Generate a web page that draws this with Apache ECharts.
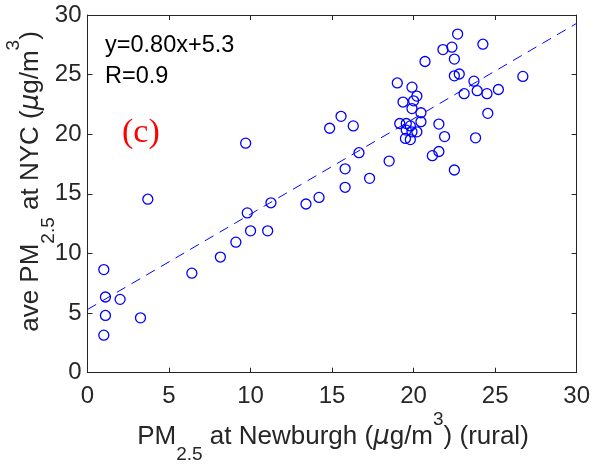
<!DOCTYPE html>
<html><head><meta charset="utf-8">
<script src="https://cdn.jsdelivr.net/npm/echarts@6/dist/echarts.min.js"></script>
<style>html,body{margin:0;padding:0;background:#fff}#c{width:593px;height:466px}</style>
</head><body><div id="c"></div>
<script>
// Tick labels
const xTicks = [0, 5, 10, 15, 20, 25, 30];
const yTicks = [0, 5, 10, 15, 20, 25, 30];

// PM2.5 at Newburgh (rural), x values
const newburgh = [
  1.0, 1.1, 2.0, 1.1, 3.25, 1.0, 3.7, 6.4, 8.15, 9.1, 9.8, 10.0, 11.05, 11.25, 13.4, 14.2, 9.7,
  14.85, 15.55, 16.3, 16.65, 15.8, 15.8, 17.3, 18.5, 19.0, 19.35,
  19.15, 19.55, 19.8, 19.55, 19.9, 20.2, 19.5, 19.8,
  19.9, 20.2, 20.0, 19.9, 20.45, 20.45, 20.7, 21.8, 22.35, 22.5, 22.7, 24.25,
  22.5, 22.8, 23.7, 23.1, 23.9, 24.5, 25.2, 26.7, 24.55,
  21.55, 21.9, 23.8, 21.55, 21.15, 22.5
];
// ave PM2.5 at NYC, y values
const nyc = [
  8.65, 6.35, 6.15, 4.8, 4.6, 3.15, 14.55, 8.35, 9.7, 10.95, 13.4, 11.9, 11.9, 14.25, 14.15, 14.7, 19.25,
  20.5, 21.5, 20.7, 18.45, 17.1, 15.55, 16.3, 17.75, 24.3, 22.7,
  20.9, 20.9, 20.7, 20.35, 20.2, 20.2, 19.65, 19.55,
  23.95, 23.2, 22.8, 22.15, 21.8, 21.05, 26.1, 27.1, 27.3, 26.3, 28.4, 27.55,
  24.9, 25.05, 24.45, 23.4, 23.65, 23.4, 23.75, 24.85, 21.75,
  20.85, 19.8, 19.7, 18.55, 18.2, 17.0
];
// Regression line y = 0.80x + 5.3 (end points)
const fitX = [0, 30];
const fitY = [5.3, 29.3];

const axisColor = '#262626';
const FONT = '"Liberation Sans", Arial, Helvetica, sans-serif';

const points = newburgh.map((x, i) => [x, nyc[i]]);
const fitLine = fitX.map((x, i) => [x, fitY[i]]);

function xAxisCfg(pos, showLabel) {
  return {
    type: 'value', position: pos, min: xTicks[0], max: xTicks[xTicks.length - 1], interval: 5,
    axisLine: { show: true, onZero: false, lineStyle: { color: axisColor, width: 1 } },
    axisTick: { show: true, inside: true, length: 5, lineStyle: { color: axisColor, width: 1 } },
    axisLabel: { show: showLabel, fontSize: 24, color: axisColor, fontFamily: FONT, margin: 12,
      formatter: v => (xTicks.indexOf(v) >= 0 ? String(v) : '') },
    splitLine: { show: false }
  };
}
function yAxisCfg(pos, showLabel) {
  return {
    type: 'value', position: pos, min: yTicks[0], max: yTicks[yTicks.length - 1], interval: 5,
    axisLine: { show: true, onZero: false, lineStyle: { color: axisColor, width: 1 } },
    axisTick: { show: true, inside: true, length: 5, lineStyle: { color: axisColor, width: 1 } },
    axisLabel: { show: showLabel, fontSize: 24, color: axisColor, fontFamily: FONT, margin: 6,
      formatter: v => (yTicks.indexOf(v) >= 0 ? String(v) : '') },
    splitLine: { show: false }
  };
}

const richBase = {
  m: { fontSize: 26, fontFamily: FONT, fill: axisColor, lineHeight: 54 },
  g: { fontSize: 26, fontFamily: '"DejaVu Sans", sans-serif', fontStyle: 'italic', fill: axisColor, lineHeight: 54 },
  s: { fontSize: 19, fontFamily: FONT, fill: axisColor, lineHeight: 20, verticalAlign: 'bottom' },
  p: { fontSize: 19, fontFamily: FONT, fill: axisColor, lineHeight: 32, verticalAlign: 'top' }
};

const chart = echarts.init(document.getElementById('c'), null, { renderer: 'canvas' });
chart.setOption({
  animation: false,
  backgroundColor: '#fff',
  grid: { left: 87.5, right: 16.3, top: 15, bottom: 93.3, containLabel: false },
  xAxis: [xAxisCfg('bottom', true), xAxisCfg('top', false)],
  yAxis: [yAxisCfg('left', true), yAxisCfg('right', false)],
  series: [
    {
      type: 'line', data: fitLine, showSymbol: false, symbol: 'none', silent: true,
      lineStyle: { color: '#0000ff', width: 1, type: [10, 7] }, z: 2
    },
    {
      type: 'scatter', data: points, symbol: 'circle', symbolSize: 10,
      itemStyle: { color: 'rgba(255,255,255,0)', borderColor: '#0000ff', borderWidth: 1.3, opacity: 1 },
      z: 3
    }
  ],
  graphic: [
    {
      type: 'text', x: 333, y: 437,
      style: {
        text: '{m|PM}{s|2.5}{m| at Newburgh (}{g|μ}{m|g/m}{p|3}{m|) (rural)}',
        rich: richBase, align: 'center', verticalAlign: 'middle'
      }
    },
    {
      type: 'text', x: 31, y: 181.5, rotation: Math.PI / 2,
      style: {
        text: '{m|ave PM}{s|2.5}{m| at NYC (}{g|μ}{m|g/m}{p|3}{m|)}',
        rich: richBase, align: 'center', verticalAlign: 'middle'
      }
    },
    {
      type: 'text', x: 105, y: 46,
      style: { text: 'y=0.80x+5.3', fontSize: 23.5, fontFamily: FONT, fill: '#000', align: 'left', verticalAlign: 'middle' }
    },
    {
      type: 'text', x: 105, y: 77,
      style: { text: 'R=0.9', fontSize: 23.5, fontFamily: FONT, fill: '#000', align: 'left', verticalAlign: 'middle' }
    },
    {
      type: 'text', x: 122, y: 133,
      style: { text: '(c)', fontSize: 34, fontFamily: '"Liberation Serif", "Times New Roman", serif', fill: '#ff0000', align: 'left', verticalAlign: 'middle' }
    }
  ]
});
</script>
</body></html>
